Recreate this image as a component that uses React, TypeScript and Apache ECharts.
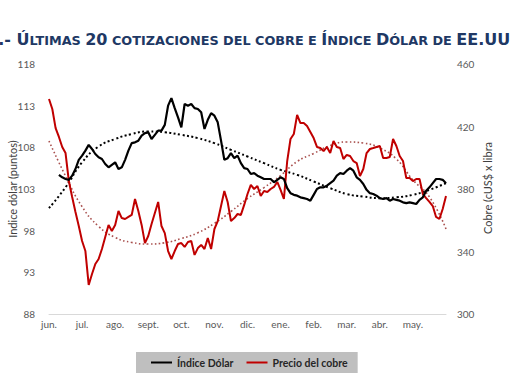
import React, { useEffect, useRef } from "react";
import * as echarts from "echarts";

const months = ["jun.", "jul.", "ago.", "sept.", "oct.", "nov.", "dic.", "ene.", "feb.", "mar.", "abr.", "may."];
const POINTS_PER_MONTH = 10;

// Índice dólar (puntos) – left axis
const dolar: (number | null)[] = [
  null, null, null, 104.7, 104.4, 104.2, 104.1, 104.6, 105.4, 106.5,
  107.0, 107.6, 108.3, 107.8, 107.2, 106.8, 106.6, 106.0, 105.6, 105.9,
  106.2, 105.4, 105.6, 106.5, 107.6, 108.5, 108.6, 108.8, 109.4, 109.7,
  109.8, 109.0, 109.5, 110.0, 110.0, 110.7, 113.0, 113.9, 112.7, 111.6,
  110.4, 113.2, 113.0, 113.2, 112.7, 112.6, 112.2, 110.2, 111.3, 112.1,
  111.8, 111.0, 108.8, 106.5, 106.7, 107.3, 106.7, 107.0, 106.1, 105.5,
  105.4, 104.8, 104.9, 104.6, 104.4, 104.2, 104.2, 104.2, 103.8, 104.1,
  104.4, 104.2, 103.1, 102.5, 102.3, 102.2, 102.0, 101.9, 101.8, 101.6,
  102.3, 103.0, 103.2, 103.2, 103.4, 103.7, 104.0, 104.6, 104.9, 104.8,
  105.2, 105.5, 105.2, 104.4, 104.1, 103.6, 102.9, 102.5, 102.4, 102.2,
  101.9, 101.8, 101.9, 101.6, 101.8, 101.7, 101.6, 101.4, 101.3, 101.4,
  101.3, 101.2, 101.7, 102.0, 102.8, 103.2, 103.7, 104.2, 104.2, 104.1,
  103.7,
];

// Precio del cobre (cUS$ x libra) – right axis
const cobre: number[] = [
  437.6, 431.2, 419.0, 413.3, 406.9, 403.0, 385.1, 374.9, 365.3, 356.3,
  346.7, 340.3, 318.6, 325.6, 332.0, 335.2, 341.6, 349.3, 357.0, 353.1,
  357.0, 365.9, 361.4, 360.8, 362.1, 363.4, 373.6, 365.9, 357.0, 345.4,
  349.9, 357.6, 364.6, 371.7, 356.3, 351.8, 340.3, 335.2, 340.3, 344.8,
  345.4, 342.9, 346.1, 346.7, 337.8, 342.2, 344.2, 341.6, 348.6, 341.6,
  354.4, 359.5, 369.1, 378.7, 371.7, 359.5, 361.4, 364.0, 363.4, 369.8,
  376.8, 382.6, 380.0, 381.9, 375.5, 378.7, 378.1, 380.0, 381.3, 384.5,
  379.4, 373.6, 397.9, 412.0, 415.2, 427.4, 422.2, 422.2, 420.3, 416.5,
  412.6, 406.9, 406.2, 404.3, 406.9, 403.0, 410.7, 406.9, 406.2, 399.2,
  401.8, 401.1, 397.9, 396.6, 388.3, 392.8, 403.0, 405.6, 406.2, 406.9,
  407.5, 399.8, 399.8, 400.5, 412.0, 407.5, 401.1, 397.9, 387.0, 387.0,
  385.1, 386.4, 386.4, 376.8, 374.2, 371.7, 369.1, 362.1, 360.8, 367.2,
  375.5,
];

// Polynomial trend lines (every 5 points)
const dolarTrend: number[] = [
  100.7, 103.2, 106.2, 108.1, 109.0, 109.6, 109.9, 109.8, 109.5, 109.1,
  108.5, 107.7, 106.9, 106.1, 105.3, 104.7, 103.9, 103.1, 102.4, 102.1,
  101.9, 102.0, 102.3, 102.9, 103.7,
];
const cobreTrend: number[] = [
  410.7, 388.3, 368.7, 356.1, 349.0, 345.8, 344.8, 345.6, 348.3, 352.0,
  358.0, 365.6, 373.9, 380.9, 388.6, 397.6, 402.7, 407.8, 410.1, 409.4,
  406.2, 399.2, 385.8, 374.9, 354.4,
];

const leftTicks = { min: 88, max: 118, interval: 5 };
const rightTicks = { min: 300, max: 460, interval: 40 };

export default function App() {
  const ref = useRef<HTMLDivElement>(null);
  useEffect(() => {
    if (!ref.current) return;
    const chart = echarts.init(ref.current, null, { renderer: "svg" });
    const n = dolar.length;
    const cats = Array.from({ length: n }, (_, i) => String(i));
    const trendCats = dolarTrend.map((_, i) => String(i));
    const labelFont = "Lato, 'Open Sans', sans-serif";
    const navy = "#203864";
    const titleFont = "'DejaVu Sans', Verdana, sans-serif";
    chart.setOption({
      animation: false,
      backgroundColor: "#ffffff",
      grid: { left: 49, right: 64, top: 64, bottom: 68, containLabel: false },
      legend: {
        data: ["Índice Dólar", "Precio del cobre"],
        left: 136,
        top: 352,
        backgroundColor: "#BFBFBF",
        padding: [5, 10, 5, 15],
        itemGap: 13,
        itemWidth: 21,
        itemHeight: 2,
        icon: "rect",
        textStyle: { fontFamily: labelFont, fontWeight: "bold", fontSize: 10.5, color: "#262626" },
      },
      graphic: [
        {
          type: "text",
          x: -13,
          y: 47,
          style: {
            text: "{b|1.- Ú}{s|LTIMAS }{b|20}{s| COTIZACIONES DEL COBRE E }{b|Í}{s|NDICE }{b|D}{s|ÓLAR DE }{b|EE.UU.}",
            verticalAlign: "bottom",
            rich: {
              b: { fontSize: 16, fontWeight: "bold", fill: navy, fontFamily: titleFont, verticalAlign: "bottom" },
              s: { fontSize: 12.8, fontWeight: "bold", fill: navy, fontFamily: titleFont, verticalAlign: "bottom" },
            },
          },
        },
        {
          type: "text",
          x: 12,
          y: 189,
          rotation: Math.PI / 2,
          style: {
            text: "Indice dólar (puntos)",
            align: "center",
            verticalAlign: "middle",
            fontFamily: labelFont,
            fontSize: 11,
            fill: "#404040",
          },
        },
        {
          type: "text",
          x: 487,
          y: 188,
          rotation: Math.PI / 2,
          style: {
            text: "Cobre (cUS$ x libra",
            align: "center",
            verticalAlign: "middle",
            fontFamily: labelFont,
            fontSize: 11,
            fill: "#404040",
          },
        },
      ],
      xAxis: [
        {
          type: "category",
          data: cats,
          boundaryGap: false,
          axisLine: { show: true, lineStyle: { color: "#D9D9D9", width: 1 } },
          axisTick: { show: false },
          splitLine: { show: false },
          axisLabel: {
            interval: 0,
            margin: 5,
            fontFamily: labelFont,
            fontSize: 10,
            color: "#595959",
            formatter: (_v: string, idx: number) =>
              idx % POINTS_PER_MONTH === 0 && idx / POINTS_PER_MONTH < months.length
                ? months[idx / POINTS_PER_MONTH]
                : "",
          },
        },
        {
          type: "category",
          data: trendCats,
          boundaryGap: false,
          show: false,
        },
      ],
      yAxis: [
        {
          type: "value",
          ...leftTicks,
          axisLine: { show: false },
          axisTick: { show: false },
          splitLine: { show: false },
          axisLabel: { margin: 14, fontFamily: labelFont, fontSize: 10, color: "#595959" },
        },
        {
          type: "value",
          position: "right",
          ...rightTicks,
          axisLine: { show: false },
          axisTick: { show: false },
          splitLine: { show: false },
          axisLabel: { margin: 11, fontFamily: labelFont, fontSize: 10, color: "#595959" },
        },
      ],
      series: [
        {
          name: "dolarTrend",
          type: "line",
          xAxisIndex: 1,
          yAxisIndex: 0,
          data: dolarTrend,
          smooth: true,
          showSymbol: false,
          lineStyle: { color: "#000000", width: 2, type: [2, 2.5] },
          z: 1,
        },
        {
          name: "cobreTrend",
          type: "line",
          xAxisIndex: 1,
          yAxisIndex: 1,
          data: cobreTrend,
          smooth: true,
          showSymbol: false,
          lineStyle: { color: "#A9504E", width: 1.6, type: [1.6, 2.4] },
          z: 1,
        },
        {
          name: "Índice Dólar",
          type: "line",
          xAxisIndex: 0,
          yAxisIndex: 0,
          data: dolar,
          showSymbol: false,
          itemStyle: { color: "#000000" },
          lineStyle: { color: "#000000", width: 2.2 },
          z: 3,
        },
        {
          name: "Precio del cobre",
          type: "line",
          xAxisIndex: 0,
          yAxisIndex: 1,
          data: cobre,
          showSymbol: false,
          itemStyle: { color: "#C00000" },
          lineStyle: { color: "#C00000", width: 2 },
          z: 2,
        },
      ],
    });
    return () => chart.dispose();
  }, []);
  return (
    <div
      ref={ref}
      style={{ position: "fixed", left: 0, top: 0, width: 510, height: 382, background: "#fff" }}
    />
  );
}
